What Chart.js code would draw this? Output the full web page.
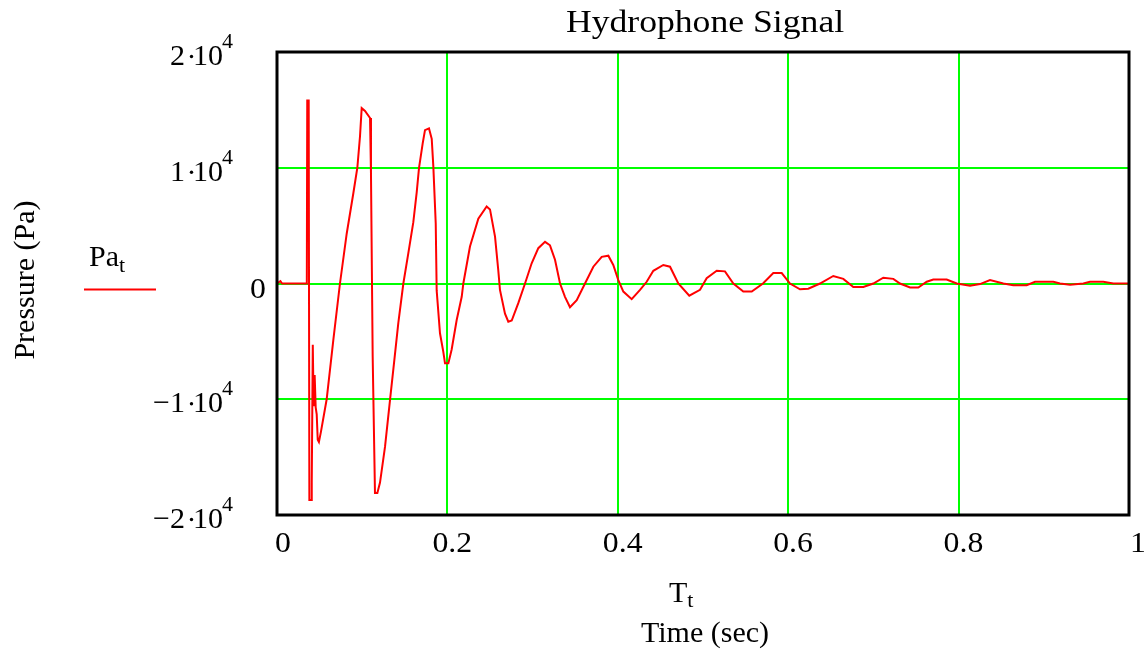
<!DOCTYPE html>
<html>
<head>
<meta charset="utf-8">
<title>Hydrophone Signal</title>
<script src="https://cdn.jsdelivr.net/npm/chart.js@4/dist/chart.umd.min.js"></script>
<style>
    html, body { margin: 0; padding: 0; background: #ffffff; }
    #wrap { width: 1146px; height: 652px; }
</style>
</head>
<body>
<div id="wrap"><canvas id="signalChart" width="1146" height="652"></canvas></div>
<script>
// Values (time in sec, pressure in Pa)
const timeVals = [
    0, 0.004, 0.006, 0.0350, 0.0355, 0.0372, 0.0380, 0.0400, 0.0408, 0.0420,
    0.0430, 0.0442, 0.0454, 0.0466, 0.0478, 0.0492, 0.0516, 0.0583, 0.0661, 0.0739,
    0.0818, 0.0896, 0.0943, 0.0974, 0.0994, 0.1033, 0.1092, 0.1103, 0.1123, 0.1150,
    0.1178, 0.1209, 0.1268, 0.1326, 0.1373, 0.1424, 0.1483, 0.1541, 0.1600, 0.1640,
    0.1667, 0.1710, 0.1737, 0.1784, 0.1816, 0.1835, 0.1863, 0.1874, 0.1913, 0.1952,
    0.1972, 0.2011, 0.2050, 0.2109, 0.2168, 0.2187, 0.2265, 0.2363, 0.2461, 0.2500,
    0.2559, 0.2597, 0.2617, 0.2676, 0.2715, 0.2755, 0.2832, 0.2911, 0.2989, 0.3067,
    0.3146, 0.3204, 0.3263, 0.3322, 0.3380, 0.3439, 0.3518, 0.3615, 0.3713, 0.3811,
    0.3889, 0.3947, 0.4006, 0.4065, 0.4163, 0.4261, 0.4339, 0.4417, 0.4534, 0.4613,
    0.4710, 0.4839, 0.4965, 0.5043, 0.5161, 0.5258, 0.5356, 0.5473, 0.5572, 0.5704,
    0.5825, 0.5924, 0.6021, 0.6138, 0.6236, 0.6373, 0.6529, 0.6647, 0.6764, 0.6882,
    0.6999, 0.7116, 0.7234, 0.7312, 0.7430, 0.7527, 0.7626, 0.7703, 0.7860, 0.7978,
    0.8134, 0.8251, 0.8369, 0.8525, 0.8642, 0.8799, 0.8897, 0.9112, 0.9190, 0.9308,
    0.9464, 0.9542, 0.9698, 0.9816, 1.0
];
const pressureVals = [
    0, 200, 0, 0, 15800, 15800, -18700, -18700, -17200, -5300,
    -10600, -7900, -10700, -11300, -13500, -13700, -12800, -10000, -4900, 0,
    4300, 7800, 10000, 12700, 15150, 14900, 14300, 9500, -6300, -18100,
    -18100, -17200, -14100, -10100, -6900, -3400, 0, 2600, 5300, 7900,
    10000, 12100, 13250, 13400, 12500, 10100, 5200, -600, -4300, -5900,
    -6900, -6900, -5700, -3150, -1150, 0, 3200, 5600, 6650, 6400,
    4050, 1150, -550, -2600, -3300, -3200, -1700, 0, 1750, 3050,
    3600, 3300, 2050, 0, -1150, -2050, -1450, 0, 1450, 2300,
    2400, 1600, 300, -700, -1350, -550, 150, 1100, 1600, 1450,
    0, -1050, -550, 450, 1100, 1050, 0, -700, -700, 0,
    900, 900, 0, -500, -450, 0, 650, 400, -300, -300,
    0, 500, 400, 0, -350, -350, 150, 350, 350, 0,
    -200, -50, 300, 0, -150, -150, 150, 150, 0, -100,
    0, 150, 150, 0, 0
];

const xTicks = [0, 0.2, 0.4, 0.6, 0.8, 1];
const xTickLabels = ['0', '0.2', '0.4', '0.6', '0.8', '1'];
const yTicks = [20000, 10000, 0, -10000, -20000];
const yTickMantissa = ['2', '1', '0', '\u22121', '\u22122'];
const yTickExponent = ['4', '4', '', '4', '4'];

const FONT = '"Liberation Serif", "Times New Roman", serif';

function textWidth(ctx, s, size, sx) {
    ctx.font = size + 'px ' + FONT;
    return ctx.measureText(s).width * (sx || 1);
}

function drawText(ctx, s, x, y, size, align, sx) {
    sx = sx || 1;
    const w = textWidth(ctx, s, size, sx);
    let x0 = x;
    if (align === 'center') x0 = x - w / 2;
    if (align === 'right') x0 = x - w;
    ctx.save();
    ctx.translate(x0, y);
    ctx.scale(sx, 1);
    ctx.fillStyle = '#000000';
    ctx.textBaseline = 'alphabetic';
    ctx.textAlign = 'left';
    ctx.fillText(s, 0, 0);
    ctx.restore();
    return w;
}

// Draws the frame, tick labels, titles and legend the way the Mathcad plot shows them
const mathcadDecor = {
    id: 'mathcadDecor',
    afterDraw(chart) {
        const ctx = chart.ctx;
        const area = chart.chartArea;
        const xs = chart.scales.x;
        const ys = chart.scales.y;
        const size = 30;
        const tickSX = 1.06;

        // black frame
        ctx.save();
        ctx.strokeStyle = '#000000';
        ctx.lineWidth = 3;
        ctx.strokeRect(area.left, area.top, area.right - area.left, area.bottom - area.top);
        ctx.restore();

        // x tick labels (decimal point sits on the grid line)
        xTicks.forEach((v, i) => {
            const px = xs.getPixelForValue(v);
            const lab = xTickLabels[i];
            let left = px - 2;
            if (lab.indexOf('.') > 0) left = px - 15;
            else if (v !== 0) left = px + 1;
            drawText(ctx, lab, left, 552, size, 'left', tickSX);
        });

        // y tick labels like "2 ·10^4"
        yTicks.forEach((v, i) => {
            const py = ys.getPixelForValue(v);
            if (yTickExponent[i] === '') {
                drawText(ctx, yTickMantissa[i], 266, py + 14.5, size, 'right', tickSX);
                return;
            }
            drawText(ctx, yTickExponent[i], 233, py - 4, 22, 'right');
            drawText(ctx, '10', 223, py + 13, size, 'right');
            ctx.save();
            ctx.fillStyle = '#000000';
            ctx.beginPath();
            ctx.arc(191.5, py + 4.5, 1.7, 0, Math.PI * 2);
            ctx.fill();
            ctx.restore();
            drawText(ctx, yTickMantissa[i], 185, py + 13, size, 'right');
        });

        // title
        drawText(ctx, 'Hydrophone Signal', 705, 32, 31, 'center', 1.15);

        // x axis title: T_t and Time (sec)
        const tW = drawText(ctx, 'T', 669, 602, size, 'left');
        drawText(ctx, 't', 669 + tW, 607, 22, 'left');
        drawText(ctx, 'Time (sec)', 641, 642, size, 'left');

        // y axis title
        ctx.save();
        ctx.translate(34, 280);
        ctx.rotate(-Math.PI / 2);
        drawText(ctx, 'Pressure (Pa)', 0, 0, size, 'center');
        ctx.restore();

        // legend
        const paW = drawText(ctx, 'Pa', 89, 266, size, 'left');
        drawText(ctx, 't', 89 + paW, 272, 22, 'left');
        ctx.save();
        ctx.strokeStyle = '#ff0000';
        ctx.lineWidth = 2;
        ctx.beginPath();
        ctx.moveTo(84, 289.5);
        ctx.lineTo(156, 289.5);
        ctx.stroke();
        ctx.restore();
    }
};

document.addEventListener('DOMContentLoaded', () => {
    const ctx = document.getElementById('signalChart').getContext('2d');
    const points = timeVals.map((t, i) => ({ x: t, y: pressureVals[i] }));

    new Chart(ctx, {
        type: 'line',
        data: {
            datasets: [{
                label: 'Pa_t',
                data: points,
                borderColor: '#ff0000',
                borderWidth: 2,
                pointRadius: 0,
                tension: 0,
                fill: false
            }]
        },
        options: {
            responsive: false,
            animation: false,
            layout: {
                padding: { left: 277, top: 52, right: 17, bottom: 137 }
            },
            plugins: {
                legend: { display: false },
                tooltip: { enabled: false },
                title: { display: false }
            },
            scales: {
                x: {
                    type: 'linear',
                    min: 0,
                    max: 1,
                    ticks: { display: false, stepSize: 0.2 },
                    grid: { color: '#00ff00', lineWidth: 2, drawTicks: false },
                    border: { display: false }
                },
                y: {
                    type: 'linear',
                    min: -20000,
                    max: 20000,
                    ticks: { display: false, stepSize: 10000 },
                    grid: { color: '#00ff00', lineWidth: 2, drawTicks: false },
                    border: { display: false }
                }
            }
        },
        plugins: [mathcadDecor]
    });
});
</script>
</body>
</html>
